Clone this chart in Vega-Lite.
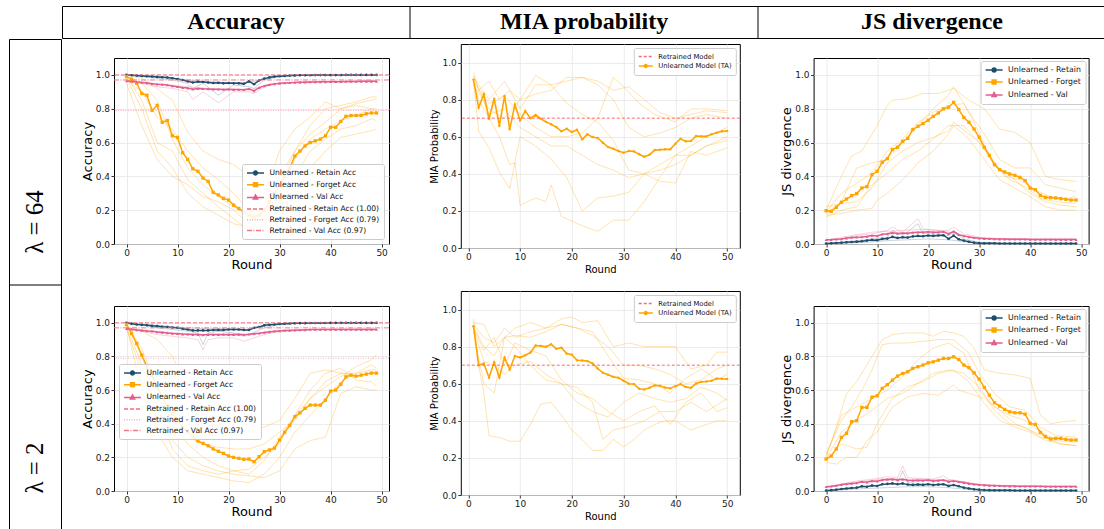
{
"$schema":"https://vega.github.io/schema/vega-lite/v6.json",
"background":"white",
"padding":{"left":8,"top":5,"right":0,"bottom":0},
"config":{"view":{"stroke":"#000","strokeWidth":1},"concat":{"spacing":0},
"axis":{"domain":false,"labelOverlap":false,"labelFont":"DejaVu Sans","labelFontSize":9,"labelColor":"#1a1a1a","labelPadding":1.5,"tickColor":"#000","tickSize":3,"tickWidth":0.8,"gridColor":"#e6e6e6","gridWidth":0.8,"titleFont":"DejaVu Sans","titleFontWeight":"normal","titleColor":"#000","labelFlush":false}},
"datasets":{
"accret":[{"k":"tR","v":1},{"k":"tF","v":0.79},{"k":"tV","v":0.97}],
"miaret":[{"k":"tM","v":0.7}],
"a64":[
{"k":"F","r":0,"v":0.99},{"k":"F","r":1,"v":0.975},{"k":"F","r":2,"v":0.95},{"k":"F","r":3,"v":0.89},{"k":"F","r":4,"v":0.88},{"k":"F","r":5,"v":0.79},{"k":"F","r":6,"v":0.82},{"k":"F","r":7,"v":0.72},{"k":"F","r":8,"v":0.73},{"k":"F","r":9,"v":0.64},{"k":"F","r":10,"v":0.63},{"k":"F","r":11,"v":0.54},{"k":"F","r":12,"v":0.5},{"k":"F","r":13,"v":0.445},{"k":"F","r":14,"v":0.43},{"k":"F","r":15,"v":0.39},{"k":"F","r":16,"v":0.37},{"k":"F","r":17,"v":0.305},{"k":"F","r":18,"v":0.29},{"k":"F","r":19,"v":0.27},{"k":"F","r":20,"v":0.26},{"k":"F","r":21,"v":0.23},{"k":"F","r":22,"v":0.21},{"k":"F","r":23,"v":0.19},{"k":"F","r":24,"v":0.17},{"k":"F","r":25,"v":0.16},{"k":"F","r":26,"v":0.17},{"k":"F","r":27,"v":0.2},{"k":"F","r":28,"v":0.25},{"k":"F","r":29,"v":0.3},{"k":"F","r":30,"v":0.35},{"k":"F","r":31,"v":0.4},{"k":"F","r":32,"v":0.45},{"k":"F","r":33,"v":0.52},{"k":"F","r":34,"v":0.55},{"k":"F","r":35,"v":0.58},{"k":"F","r":36,"v":0.6},{"k":"F","r":37,"v":0.61},{"k":"F","r":38,"v":0.62},{"k":"F","r":39,"v":0.64},{"k":"F","r":40,"v":0.69},{"k":"F","r":41,"v":0.69},{"k":"F","r":42,"v":0.725},{"k":"F","r":43,"v":0.755},{"k":"F","r":44,"v":0.76},{"k":"F","r":45,"v":0.76},{"k":"F","r":46,"v":0.76},{"k":"F","r":47,"v":0.77},{"k":"F","r":48,"v":0.775},{"k":"F","r":49,"v":0.775},
{"k":"R","r":0,"v":1},{"k":"R","r":1,"v":0.998},{"k":"R","r":2,"v":0.996},{"k":"R","r":3,"v":0.994},{"k":"R","r":4,"v":0.992},{"k":"R","r":5,"v":0.99},{"k":"R","r":6,"v":0.988},{"k":"R","r":7,"v":0.986},{"k":"R","r":8,"v":0.984},{"k":"R","r":9,"v":0.98},{"k":"R","r":10,"v":0.976},{"k":"R","r":11,"v":0.97},{"k":"R","r":12,"v":0.962},{"k":"R","r":13,"v":0.955},{"k":"R","r":14,"v":0.96},{"k":"R","r":15,"v":0.958},{"k":"R","r":16,"v":0.955},{"k":"R","r":17,"v":0.952},{"k":"R","r":18,"v":0.953},{"k":"R","r":19,"v":0.95},{"k":"R","r":20,"v":0.952},{"k":"R","r":21,"v":0.95},{"k":"R","r":22,"v":0.95},{"k":"R","r":23,"v":0.947},{"k":"R","r":24,"v":0.962},{"k":"R","r":25,"v":0.945},{"k":"R","r":26,"v":0.968},{"k":"R","r":27,"v":0.978},{"k":"R","r":28,"v":0.985},{"k":"R","r":29,"v":0.99},{"k":"R","r":30,"v":0.992},{"k":"R","r":31,"v":0.994},{"k":"R","r":32,"v":0.996},{"k":"R","r":33,"v":0.997},{"k":"R","r":34,"v":0.998},{"k":"R","r":35,"v":0.998},{"k":"R","r":36,"v":0.998},{"k":"R","r":37,"v":0.999},{"k":"R","r":38,"v":0.999},{"k":"R","r":39,"v":0.999},{"k":"R","r":40,"v":0.999},{"k":"R","r":41,"v":0.999},{"k":"R","r":42,"v":0.999},{"k":"R","r":43,"v":1},{"k":"R","r":44,"v":1},{"k":"R","r":45,"v":1},{"k":"R","r":46,"v":1},{"k":"R","r":47,"v":1},{"k":"R","r":48,"v":1},{"k":"R","r":49,"v":1},
{"k":"V","r":0,"v":0.965},{"k":"V","r":1,"v":0.962},{"k":"V","r":2,"v":0.958},{"k":"V","r":3,"v":0.955},{"k":"V","r":4,"v":0.952},{"k":"V","r":5,"v":0.948},{"k":"V","r":6,"v":0.945},{"k":"V","r":7,"v":0.943},{"k":"V","r":8,"v":0.94},{"k":"V","r":9,"v":0.935},{"k":"V","r":10,"v":0.93},{"k":"V","r":11,"v":0.925},{"k":"V","r":12,"v":0.922},{"k":"V","r":13,"v":0.915},{"k":"V","r":14,"v":0.92},{"k":"V","r":15,"v":0.918},{"k":"V","r":16,"v":0.917},{"k":"V","r":17,"v":0.915},{"k":"V","r":18,"v":0.915},{"k":"V","r":19,"v":0.914},{"k":"V","r":20,"v":0.915},{"k":"V","r":21,"v":0.913},{"k":"V","r":22,"v":0.914},{"k":"V","r":23,"v":0.912},{"k":"V","r":24,"v":0.918},{"k":"V","r":25,"v":0.905},{"k":"V","r":26,"v":0.925},{"k":"V","r":27,"v":0.935},{"k":"V","r":28,"v":0.942},{"k":"V","r":29,"v":0.947},{"k":"V","r":30,"v":0.95},{"k":"V","r":31,"v":0.952},{"k":"V","r":32,"v":0.954},{"k":"V","r":33,"v":0.955},{"k":"V","r":34,"v":0.956},{"k":"V","r":35,"v":0.957},{"k":"V","r":36,"v":0.958},{"k":"V","r":37,"v":0.958},{"k":"V","r":38,"v":0.959},{"k":"V","r":39,"v":0.959},{"k":"V","r":40,"v":0.96},{"k":"V","r":41,"v":0.96},{"k":"V","r":42,"v":0.96},{"k":"V","r":43,"v":0.961},{"k":"V","r":44,"v":0.961},{"k":"V","r":45,"v":0.961},{"k":"V","r":46,"v":0.962},{"k":"V","r":47,"v":0.962},{"k":"V","r":48,"v":0.962},{"k":"V","r":49,"v":0.962},
{"k":"f1","r":0,"v":0.98},{"k":"f1","r":3,"v":0.8},{"k":"f1","r":6,"v":0.55},{"k":"f1","r":9,"v":0.45},{"k":"f1","r":12,"v":0.3},{"k":"f1","r":15,"v":0.22},{"k":"f1","r":18,"v":0.17},{"k":"f1","r":21,"v":0.12},{"k":"f1","r":24,"v":0.1},{"k":"f1","r":27,"v":0.15},{"k":"f1","r":30,"v":0.35},{"k":"f1","r":33,"v":0.55},{"k":"f1","r":36,"v":0.65},{"k":"f1","r":39,"v":0.72},{"k":"f1","r":42,"v":0.8},{"k":"f1","r":45,"v":0.83},{"k":"f1","r":48,"v":0.85},{"k":"f1","r":49,"v":0.86},
{"k":"f2","r":0,"v":0.99},{"k":"f2","r":3,"v":0.85},{"k":"f2","r":6,"v":0.6},{"k":"f2","r":9,"v":0.55},{"k":"f2","r":12,"v":0.38},{"k":"f2","r":15,"v":0.3},{"k":"f2","r":18,"v":0.22},{"k":"f2","r":21,"v":0.15},{"k":"f2","r":24,"v":0.08},{"k":"f2","r":27,"v":0.12},{"k":"f2","r":30,"v":0.3},{"k":"f2","r":33,"v":0.5},{"k":"f2","r":36,"v":0.62},{"k":"f2","r":39,"v":0.68},{"k":"f2","r":42,"v":0.73},{"k":"f2","r":45,"v":0.76},{"k":"f2","r":48,"v":0.8},{"k":"f2","r":49,"v":0.8},
{"k":"f3","r":0,"v":1},{"k":"f3","r":3,"v":0.98},{"k":"f3","r":6,"v":0.92},{"k":"f3","r":9,"v":0.85},{"k":"f3","r":12,"v":0.66},{"k":"f3","r":15,"v":0.55},{"k":"f3","r":18,"v":0.5},{"k":"f3","r":21,"v":0.47},{"k":"f3","r":24,"v":0.4},{"k":"f3","r":27,"v":0.35},{"k":"f3","r":30,"v":0.4},{"k":"f3","r":33,"v":0.55},{"k":"f3","r":36,"v":0.7},{"k":"f3","r":39,"v":0.8},{"k":"f3","r":42,"v":0.82},{"k":"f3","r":45,"v":0.84},{"k":"f3","r":48,"v":0.87},{"k":"f3","r":49,"v":0.87},
{"k":"f4","r":0,"v":0.97},{"k":"f4","r":3,"v":0.9},{"k":"f4","r":6,"v":0.75},{"k":"f4","r":9,"v":0.68},{"k":"f4","r":12,"v":0.55},{"k":"f4","r":15,"v":0.45},{"k":"f4","r":18,"v":0.38},{"k":"f4","r":21,"v":0.3},{"k":"f4","r":24,"v":0.2},{"k":"f4","r":27,"v":0.13},{"k":"f4","r":30,"v":0.2},{"k":"f4","r":33,"v":0.4},{"k":"f4","r":36,"v":0.55},{"k":"f4","r":39,"v":0.62},{"k":"f4","r":42,"v":0.68},{"k":"f4","r":45,"v":0.7},{"k":"f4","r":48,"v":0.74},{"k":"f4","r":49,"v":0.73},
{"k":"f5","r":0,"v":0.99},{"k":"f5","r":3,"v":0.95},{"k":"f5","r":6,"v":0.85},{"k":"f5","r":9,"v":0.62},{"k":"f5","r":12,"v":0.45},{"k":"f5","r":15,"v":0.35},{"k":"f5","r":18,"v":0.28},{"k":"f5","r":21,"v":0.22},{"k":"f5","r":24,"v":0.17},{"k":"f5","r":27,"v":0.2},{"k":"f5","r":30,"v":0.25},{"k":"f5","r":33,"v":0.32},{"k":"f5","r":36,"v":0.45},{"k":"f5","r":39,"v":0.55},{"k":"f5","r":42,"v":0.63},{"k":"f5","r":45,"v":0.65},{"k":"f5","r":48,"v":0.67},{"k":"f5","r":49,"v":0.68},
{"k":"f6","r":0,"v":0.95},{"k":"f6","r":3,"v":0.7},{"k":"f6","r":6,"v":0.5},{"k":"f6","r":9,"v":0.4},{"k":"f6","r":12,"v":0.35},{"k":"f6","r":15,"v":0.28},{"k":"f6","r":18,"v":0.25},{"k":"f6","r":21,"v":0.2},{"k":"f6","r":24,"v":0.12},{"k":"f6","r":27,"v":0.3},{"k":"f6","r":30,"v":0.55},{"k":"f6","r":33,"v":0.68},{"k":"f6","r":36,"v":0.75},{"k":"f6","r":39,"v":0.84},{"k":"f6","r":42,"v":0.8},{"k":"f6","r":45,"v":0.82},{"k":"f6","r":48,"v":0.8},{"k":"f6","r":49,"v":0.78},
{"k":"b1","r":0,"v":1},{"k":"b1","r":3,"v":0.99},{"k":"b1","r":6,"v":0.98},{"k":"b1","r":9,"v":0.97},{"k":"b1","r":12,"v":0.95},{"k":"b1","r":13,"v":0.92},{"k":"b1","r":15,"v":0.95},{"k":"b1","r":18,"v":0.88},{"k":"b1","r":21,"v":0.94},{"k":"b1","r":24,"v":0.93},{"k":"b1","r":25,"v":0.92},{"k":"b1","r":27,"v":0.97},{"k":"b1","r":30,"v":0.99},{"k":"b1","r":35,"v":1},{"k":"b1","r":40,"v":1},{"k":"b1","r":49,"v":1},
{"k":"b2","r":0,"v":1},{"k":"b2","r":4,"v":0.995},{"k":"b2","r":8,"v":0.985},{"k":"b2","r":12,"v":0.97},{"k":"b2","r":16,"v":0.96},{"k":"b2","r":20,"v":0.955},{"k":"b2","r":24,"v":0.955},{"k":"b2","r":28,"v":0.985},{"k":"b2","r":32,"v":0.998},{"k":"b2","r":40,"v":1},{"k":"b2","r":49,"v":1},
{"k":"p1","r":0,"v":0.96},{"k":"p1","r":3,"v":0.95},{"k":"p1","r":6,"v":0.93},{"k":"p1","r":9,"v":0.92},{"k":"p1","r":12,"v":0.9},{"k":"p1","r":13,"v":0.855},{"k":"p1","r":15,"v":0.9},{"k":"p1","r":18,"v":0.835},{"k":"p1","r":21,"v":0.9},{"k":"p1","r":24,"v":0.9},{"k":"p1","r":25,"v":0.89},{"k":"p1","r":27,"v":0.93},{"k":"p1","r":30,"v":0.95},{"k":"p1","r":35,"v":0.96},{"k":"p1","r":40,"v":0.96},{"k":"p1","r":49,"v":0.965},
{"k":"p2","r":0,"v":0.97},{"k":"p2","r":4,"v":0.955},{"k":"p2","r":8,"v":0.94},{"k":"p2","r":12,"v":0.93},{"k":"p2","r":16,"v":0.92},{"k":"p2","r":20,"v":0.915},{"k":"p2","r":24,"v":0.91},{"k":"p2","r":28,"v":0.945},{"k":"p2","r":32,"v":0.955},{"k":"p2","r":40,"v":0.962},{"k":"p2","r":49,"v":0.962}
],
"a2":[
{"k":"F","r":0,"v":0.99},{"k":"F","r":1,"v":0.937},{"k":"F","r":2,"v":0.877},{"k":"F","r":3,"v":0.808},{"k":"F","r":4,"v":0.74},{"k":"F","r":5,"v":0.68},{"k":"F","r":6,"v":0.62},{"k":"F","r":7,"v":0.56},{"k":"F","r":8,"v":0.5},{"k":"F","r":9,"v":0.46},{"k":"F","r":10,"v":0.42},{"k":"F","r":11,"v":0.38},{"k":"F","r":12,"v":0.35},{"k":"F","r":13,"v":0.323},{"k":"F","r":14,"v":0.297},{"k":"F","r":15,"v":0.283},{"k":"F","r":16,"v":0.269},{"k":"F","r":17,"v":0.25},{"k":"F","r":18,"v":0.236},{"k":"F","r":19,"v":0.224},{"k":"F","r":20,"v":0.208},{"k":"F","r":21,"v":0.2},{"k":"F","r":22,"v":0.194},{"k":"F","r":23,"v":0.188},{"k":"F","r":24,"v":0.19},{"k":"F","r":25,"v":0.174},{"k":"F","r":26,"v":0.204},{"k":"F","r":27,"v":0.234},{"k":"F","r":28,"v":0.244},{"k":"F","r":29,"v":0.255},{"k":"F","r":30,"v":0.303},{"k":"F","r":31,"v":0.349},{"k":"F","r":32,"v":0.39},{"k":"F","r":33,"v":0.442},{"k":"F","r":34,"v":0.465},{"k":"F","r":35,"v":0.491},{"k":"F","r":36,"v":0.511},{"k":"F","r":37,"v":0.511},{"k":"F","r":38,"v":0.511},{"k":"F","r":39,"v":0.54},{"k":"F","r":40,"v":0.594},{"k":"F","r":41,"v":0.6},{"k":"F","r":42,"v":0.634},{"k":"F","r":43,"v":0.679},{"k":"F","r":44,"v":0.689},{"k":"F","r":45,"v":0.683},{"k":"F","r":46,"v":0.689},{"k":"F","r":47,"v":0.695},{"k":"F","r":48,"v":0.701},{"k":"F","r":49,"v":0.701},
{"k":"R","r":0,"v":1},{"k":"R","r":1,"v":0.995},{"k":"R","r":2,"v":0.99},{"k":"R","r":3,"v":0.988},{"k":"R","r":4,"v":0.985},{"k":"R","r":5,"v":0.982},{"k":"R","r":6,"v":0.98},{"k":"R","r":7,"v":0.976},{"k":"R","r":8,"v":0.975},{"k":"R","r":9,"v":0.972},{"k":"R","r":10,"v":0.97},{"k":"R","r":11,"v":0.965},{"k":"R","r":12,"v":0.96},{"k":"R","r":13,"v":0.955},{"k":"R","r":14,"v":0.955},{"k":"R","r":15,"v":0.955},{"k":"R","r":16,"v":0.955},{"k":"R","r":17,"v":0.957},{"k":"R","r":18,"v":0.958},{"k":"R","r":19,"v":0.958},{"k":"R","r":20,"v":0.96},{"k":"R","r":21,"v":0.96},{"k":"R","r":22,"v":0.96},{"k":"R","r":23,"v":0.958},{"k":"R","r":24,"v":0.958},{"k":"R","r":25,"v":0.97},{"k":"R","r":26,"v":0.975},{"k":"R","r":27,"v":0.985},{"k":"R","r":28,"v":0.988},{"k":"R","r":29,"v":0.99},{"k":"R","r":30,"v":0.993},{"k":"R","r":31,"v":0.995},{"k":"R","r":32,"v":0.996},{"k":"R","r":33,"v":0.997},{"k":"R","r":34,"v":0.998},{"k":"R","r":35,"v":0.998},{"k":"R","r":36,"v":0.999},{"k":"R","r":37,"v":0.999},{"k":"R","r":38,"v":0.999},{"k":"R","r":39,"v":0.999},{"k":"R","r":40,"v":1},{"k":"R","r":41,"v":1},{"k":"R","r":42,"v":1},{"k":"R","r":43,"v":1},{"k":"R","r":44,"v":1},{"k":"R","r":45,"v":1},{"k":"R","r":46,"v":1},{"k":"R","r":47,"v":1},{"k":"R","r":48,"v":1},{"k":"R","r":49,"v":1},
{"k":"V","r":0,"v":0.965},{"k":"V","r":1,"v":0.962},{"k":"V","r":2,"v":0.958},{"k":"V","r":3,"v":0.955},{"k":"V","r":4,"v":0.952},{"k":"V","r":5,"v":0.95},{"k":"V","r":6,"v":0.945},{"k":"V","r":7,"v":0.943},{"k":"V","r":8,"v":0.94},{"k":"V","r":9,"v":0.937},{"k":"V","r":10,"v":0.935},{"k":"V","r":11,"v":0.933},{"k":"V","r":12,"v":0.932},{"k":"V","r":13,"v":0.93},{"k":"V","r":14,"v":0.93},{"k":"V","r":15,"v":0.928},{"k":"V","r":16,"v":0.93},{"k":"V","r":17,"v":0.93},{"k":"V","r":18,"v":0.93},{"k":"V","r":19,"v":0.931},{"k":"V","r":20,"v":0.93},{"k":"V","r":21,"v":0.93},{"k":"V","r":22,"v":0.931},{"k":"V","r":23,"v":0.928},{"k":"V","r":24,"v":0.932},{"k":"V","r":25,"v":0.935},{"k":"V","r":26,"v":0.938},{"k":"V","r":27,"v":0.942},{"k":"V","r":28,"v":0.946},{"k":"V","r":29,"v":0.95},{"k":"V","r":30,"v":0.952},{"k":"V","r":31,"v":0.954},{"k":"V","r":32,"v":0.955},{"k":"V","r":33,"v":0.956},{"k":"V","r":34,"v":0.957},{"k":"V","r":35,"v":0.958},{"k":"V","r":36,"v":0.96},{"k":"V","r":37,"v":0.96},{"k":"V","r":38,"v":0.96},{"k":"V","r":39,"v":0.96},{"k":"V","r":40,"v":0.96},{"k":"V","r":41,"v":0.96},{"k":"V","r":42,"v":0.96},{"k":"V","r":43,"v":0.96},{"k":"V","r":44,"v":0.96},{"k":"V","r":45,"v":0.96},{"k":"V","r":46,"v":0.96},{"k":"V","r":47,"v":0.96},{"k":"V","r":48,"v":0.96},{"k":"V","r":49,"v":0.96},
{"k":"f1","r":0,"v":0.98},{"k":"f1","r":3,"v":0.6},{"k":"f1","r":6,"v":0.35},{"k":"f1","r":9,"v":0.2},{"k":"f1","r":12,"v":0.12},{"k":"f1","r":15,"v":0.1},{"k":"f1","r":18,"v":0.08},{"k":"f1","r":21,"v":0.06},{"k":"f1","r":24,"v":0.05},{"k":"f1","r":27,"v":0.1},{"k":"f1","r":30,"v":0.2},{"k":"f1","r":33,"v":0.35},{"k":"f1","r":36,"v":0.45},{"k":"f1","r":39,"v":0.55},{"k":"f1","r":42,"v":0.65},{"k":"f1","r":45,"v":0.7},{"k":"f1","r":48,"v":0.75},{"k":"f1","r":49,"v":0.73},
{"k":"f2","r":0,"v":0.99},{"k":"f2","r":3,"v":0.85},{"k":"f2","r":6,"v":0.6},{"k":"f2","r":9,"v":0.4},{"k":"f2","r":12,"v":0.28},{"k":"f2","r":15,"v":0.2},{"k":"f2","r":18,"v":0.15},{"k":"f2","r":21,"v":0.12},{"k":"f2","r":24,"v":0.1},{"k":"f2","r":27,"v":0.18},{"k":"f2","r":30,"v":0.32},{"k":"f2","r":33,"v":0.45},{"k":"f2","r":36,"v":0.55},{"k":"f2","r":39,"v":0.62},{"k":"f2","r":42,"v":0.68},{"k":"f2","r":45,"v":0.74},{"k":"f2","r":48,"v":0.78},{"k":"f2","r":49,"v":0.81},
{"k":"f3","r":0,"v":1},{"k":"f3","r":3,"v":0.95},{"k":"f3","r":6,"v":0.9},{"k":"f3","r":9,"v":0.8},{"k":"f3","r":12,"v":0.62},{"k":"f3","r":15,"v":0.45},{"k":"f3","r":18,"v":0.38},{"k":"f3","r":21,"v":0.36},{"k":"f3","r":24,"v":0.35},{"k":"f3","r":27,"v":0.38},{"k":"f3","r":30,"v":0.42},{"k":"f3","r":33,"v":0.55},{"k":"f3","r":36,"v":0.7},{"k":"f3","r":39,"v":0.72},{"k":"f3","r":42,"v":0.7},{"k":"f3","r":45,"v":0.68},{"k":"f3","r":48,"v":0.7},{"k":"f3","r":49,"v":0.7},
{"k":"f4","r":0,"v":0.97},{"k":"f4","r":3,"v":0.7},{"k":"f4","r":6,"v":0.45},{"k":"f4","r":9,"v":0.3},{"k":"f4","r":12,"v":0.2},{"k":"f4","r":15,"v":0.15},{"k":"f4","r":18,"v":0.12},{"k":"f4","r":21,"v":0.1},{"k":"f4","r":24,"v":0.09},{"k":"f4","r":27,"v":0.08},{"k":"f4","r":30,"v":0.12},{"k":"f4","r":33,"v":0.25},{"k":"f4","r":36,"v":0.3},{"k":"f4","r":39,"v":0.32},{"k":"f4","r":42,"v":0.58},{"k":"f4","r":45,"v":0.62},{"k":"f4","r":48,"v":0.6},{"k":"f4","r":49,"v":0.6},
{"k":"f5","r":0,"v":0.99},{"k":"f5","r":3,"v":0.8},{"k":"f5","r":6,"v":0.55},{"k":"f5","r":9,"v":0.42},{"k":"f5","r":12,"v":0.32},{"k":"f5","r":15,"v":0.28},{"k":"f5","r":18,"v":0.26},{"k":"f5","r":21,"v":0.25},{"k":"f5","r":24,"v":0.25},{"k":"f5","r":27,"v":0.28},{"k":"f5","r":30,"v":0.35},{"k":"f5","r":33,"v":0.42},{"k":"f5","r":36,"v":0.55},{"k":"f5","r":39,"v":0.65},{"k":"f5","r":42,"v":0.7},{"k":"f5","r":45,"v":0.7},{"k":"f5","r":48,"v":0.72},{"k":"f5","r":49,"v":0.72},
{"k":"f6","r":0,"v":0.98},{"k":"f6","r":3,"v":0.75},{"k":"f6","r":6,"v":0.5},{"k":"f6","r":9,"v":0.25},{"k":"f6","r":12,"v":0.15},{"k":"f6","r":15,"v":0.12},{"k":"f6","r":18,"v":0.1},{"k":"f6","r":21,"v":0.12},{"k":"f6","r":24,"v":0.13},{"k":"f6","r":27,"v":0.2},{"k":"f6","r":30,"v":0.28},{"k":"f6","r":33,"v":0.45},{"k":"f6","r":36,"v":0.6},{"k":"f6","r":39,"v":0.7},{"k":"f6","r":42,"v":0.73},{"k":"f6","r":45,"v":0.66},{"k":"f6","r":48,"v":0.65},{"k":"f6","r":49,"v":0.62},
{"k":"b1","r":0,"v":1},{"k":"b1","r":3,"v":0.99},{"k":"b1","r":6,"v":0.97},{"k":"b1","r":9,"v":0.96},{"k":"b1","r":12,"v":0.95},{"k":"b1","r":14,"v":0.94},{"k":"b1","r":15,"v":0.87},{"k":"b1","r":16,"v":0.94},{"k":"b1","r":18,"v":0.95},{"k":"b1","r":21,"v":0.94},{"k":"b1","r":24,"v":0.93},{"k":"b1","r":27,"v":0.97},{"k":"b1","r":30,"v":0.99},{"k":"b1","r":35,"v":1},{"k":"b1","r":49,"v":1},
{"k":"b2","r":0,"v":1},{"k":"b2","r":4,"v":0.99},{"k":"b2","r":8,"v":0.98},{"k":"b2","r":12,"v":0.97},{"k":"b2","r":16,"v":0.965},{"k":"b2","r":20,"v":0.965},{"k":"b2","r":24,"v":0.96},{"k":"b2","r":28,"v":0.985},{"k":"b2","r":32,"v":1},{"k":"b2","r":49,"v":1},
{"k":"p1","r":0,"v":0.96},{"k":"p1","r":3,"v":0.95},{"k":"p1","r":6,"v":0.93},{"k":"p1","r":9,"v":0.92},{"k":"p1","r":12,"v":0.91},{"k":"p1","r":14,"v":0.9},{"k":"p1","r":15,"v":0.84},{"k":"p1","r":16,"v":0.9},{"k":"p1","r":18,"v":0.91},{"k":"p1","r":21,"v":0.91},{"k":"p1","r":23,"v":0.89},{"k":"p1","r":24,"v":0.9},{"k":"p1","r":27,"v":0.93},{"k":"p1","r":30,"v":0.95},{"k":"p1","r":35,"v":0.96},{"k":"p1","r":49,"v":0.962},
{"k":"p2","r":0,"v":0.97},{"k":"p2","r":4,"v":0.955},{"k":"p2","r":8,"v":0.945},{"k":"p2","r":12,"v":0.935},{"k":"p2","r":16,"v":0.93},{"k":"p2","r":20,"v":0.925},{"k":"p2","r":24,"v":0.93},{"k":"p2","r":28,"v":0.95},{"k":"p2","r":32,"v":0.958},{"k":"p2","r":40,"v":0.962},{"k":"p2","r":49,"v":0.962}
],
"m64":[
{"k":"U","r":1,"v":0.908},{"k":"U","r":2,"v":0.757},{"k":"U","r":3,"v":0.829},{"k":"U","r":4,"v":0.697},{"k":"U","r":5,"v":0.805},{"k":"U","r":6,"v":0.658},{"k":"U","r":7,"v":0.82},{"k":"U","r":8,"v":0.64},{"k":"U","r":9,"v":0.773},{"k":"U","r":10,"v":0.688},{"k":"U","r":11,"v":0.739},{"k":"U","r":12,"v":0.7},{"k":"U","r":13,"v":0.717},{"k":"U","r":14,"v":0.697},{"k":"U","r":15,"v":0.68},{"k":"U","r":16,"v":0.667},{"k":"U","r":17,"v":0.652},{"k":"U","r":18,"v":0.629},{"k":"U","r":19,"v":0.643},{"k":"U","r":20,"v":0.625},{"k":"U","r":21,"v":0.638},{"k":"U","r":22,"v":0.586},{"k":"U","r":23,"v":0.613},{"k":"U","r":24,"v":0.598},{"k":"U","r":25,"v":0.593},{"k":"U","r":26,"v":0.568},{"k":"U","r":27,"v":0.544},{"k":"U","r":28,"v":0.535},{"k":"U","r":29,"v":0.523},{"k":"U","r":30,"v":0.514},{"k":"U","r":31,"v":0.523},{"k":"U","r":32,"v":0.521},{"k":"U","r":33,"v":0.505},{"k":"U","r":34,"v":0.492},{"k":"U","r":35,"v":0.503},{"k":"U","r":36,"v":0.528},{"k":"U","r":37,"v":0.53},{"k":"U","r":38,"v":0.532},{"k":"U","r":39,"v":0.532},{"k":"U","r":40,"v":0.562},{"k":"U","r":41,"v":0.589},{"k":"U","r":42,"v":0.575},{"k":"U","r":43,"v":0.577},{"k":"U","r":44,"v":0.604},{"k":"U","r":45,"v":0.602},{"k":"U","r":46,"v":0.602},{"k":"U","r":47,"v":0.613},{"k":"U","r":48,"v":0.622},{"k":"U","r":49,"v":0.629},{"k":"U","r":50,"v":0.631},
{"k":"f1","r":1,"v":0.95},{"k":"f1","r":2,"v":0.85},{"k":"f1","r":4,"v":0.9},{"k":"f1","r":6,"v":0.8},{"k":"f1","r":8,"v":0.85},{"k":"f1","r":10,"v":0.8},{"k":"f1","r":13,"v":0.93},{"k":"f1","r":16,"v":0.88},{"k":"f1","r":19,"v":0.9},{"k":"f1","r":22,"v":0.92},{"k":"f1","r":25,"v":0.9},{"k":"f1","r":28,"v":0.85},{"k":"f1","r":31,"v":0.87},{"k":"f1","r":34,"v":0.8},{"k":"f1","r":37,"v":0.73},{"k":"f1","r":40,"v":0.7},{"k":"f1","r":43,"v":0.72},{"k":"f1","r":46,"v":0.74},{"k":"f1","r":50,"v":0.73},
{"k":"f2","r":1,"v":0.9},{"k":"f2","r":2,"v":0.8},{"k":"f2","r":4,"v":0.7},{"k":"f2","r":6,"v":0.6},{"k":"f2","r":8,"v":0.45},{"k":"f2","r":9,"v":0.46},{"k":"f2","r":10,"v":0.23},{"k":"f2","r":13,"v":0.27},{"k":"f2","r":15,"v":0.25},{"k":"f2","r":16,"v":0.34},{"k":"f2","r":18,"v":0.17},{"k":"f2","r":22,"v":0.12},{"k":"f2","r":25,"v":0.09},{"k":"f2","r":28,"v":0.15},{"k":"f2","r":31,"v":0.15},{"k":"f2","r":34,"v":0.25},{"k":"f2","r":37,"v":0.38},{"k":"f2","r":40,"v":0.5},{"k":"f2","r":43,"v":0.5},{"k":"f2","r":46,"v":0.55},{"k":"f2","r":50,"v":0.6},
{"k":"f3","r":1,"v":0.9},{"k":"f3","r":2,"v":0.63},{"k":"f3","r":4,"v":0.54},{"k":"f3","r":6,"v":0.41},{"k":"f3","r":8,"v":0.32},{"k":"f3","r":10,"v":0.6},{"k":"f3","r":13,"v":0.55},{"k":"f3","r":16,"v":0.48},{"k":"f3","r":19,"v":0.38},{"k":"f3","r":22,"v":0.2},{"k":"f3","r":25,"v":0.27},{"k":"f3","r":28,"v":0.28},{"k":"f3","r":31,"v":0.3},{"k":"f3","r":34,"v":0.4},{"k":"f3","r":37,"v":0.42},{"k":"f3","r":40,"v":0.45},{"k":"f3","r":43,"v":0.5},{"k":"f3","r":46,"v":0.55},{"k":"f3","r":50,"v":0.58},
{"k":"f4","r":1,"v":0.92},{"k":"f4","r":4,"v":0.8},{"k":"f4","r":7,"v":0.9},{"k":"f4","r":10,"v":0.75},{"k":"f4","r":13,"v":0.88},{"k":"f4","r":16,"v":0.88},{"k":"f4","r":19,"v":0.78},{"k":"f4","r":22,"v":0.72},{"k":"f4","r":25,"v":0.68},{"k":"f4","r":28,"v":0.58},{"k":"f4","r":31,"v":0.42},{"k":"f4","r":34,"v":0.4},{"k":"f4","r":37,"v":0.45},{"k":"f4","r":40,"v":0.5},{"k":"f4","r":43,"v":0.55},{"k":"f4","r":46,"v":0.6},{"k":"f4","r":50,"v":0.65},
{"k":"f5","r":1,"v":0.88},{"k":"f5","r":4,"v":0.75},{"k":"f5","r":7,"v":0.7},{"k":"f5","r":10,"v":0.8},{"k":"f5","r":13,"v":0.83},{"k":"f5","r":16,"v":0.85},{"k":"f5","r":19,"v":0.92},{"k":"f5","r":22,"v":0.92},{"k":"f5","r":25,"v":0.88},{"k":"f5","r":28,"v":0.8},{"k":"f5","r":31,"v":0.65},{"k":"f5","r":34,"v":0.6},{"k":"f5","r":37,"v":0.62},{"k":"f5","r":40,"v":0.65},{"k":"f5","r":43,"v":0.7},{"k":"f5","r":46,"v":0.72},{"k":"f5","r":50,"v":0.7},
{"k":"f6","r":1,"v":0.93},{"k":"f6","r":4,"v":0.72},{"k":"f6","r":7,"v":0.75},{"k":"f6","r":10,"v":0.65},{"k":"f6","r":13,"v":0.6},{"k":"f6","r":16,"v":0.55},{"k":"f6","r":19,"v":0.55},{"k":"f6","r":22,"v":0.5},{"k":"f6","r":25,"v":0.45},{"k":"f6","r":28,"v":0.42},{"k":"f6","r":31,"v":0.38},{"k":"f6","r":34,"v":0.4},{"k":"f6","r":37,"v":0.36},{"k":"f6","r":40,"v":0.35},{"k":"f6","r":43,"v":0.52},{"k":"f6","r":46,"v":0.5},{"k":"f6","r":50,"v":0.54},
{"k":"f7","r":1,"v":0.9},{"k":"f7","r":4,"v":0.78},{"k":"f7","r":7,"v":0.82},{"k":"f7","r":10,"v":0.72},{"k":"f7","r":13,"v":0.65},{"k":"f7","r":16,"v":0.6},{"k":"f7","r":19,"v":0.6},{"k":"f7","r":22,"v":0.62},{"k":"f7","r":25,"v":0.7},{"k":"f7","r":28,"v":0.92},{"k":"f7","r":30,"v":0.87},{"k":"f7","r":33,"v":0.78},{"k":"f7","r":36,"v":0.72},{"k":"f7","r":40,"v":0.68},{"k":"f7","r":43,"v":0.75},{"k":"f7","r":46,"v":0.75},{"k":"f7","r":50,"v":0.74}
],
"m2":[
{"k":"U","r":1,"v":0.91},{"k":"U","r":2,"v":0.7},{"k":"U","r":3,"v":0.709},{"k":"U","r":4,"v":0.634},{"k":"U","r":5,"v":0.716},{"k":"U","r":6,"v":0.634},{"k":"U","r":7,"v":0.741},{"k":"U","r":8,"v":0.677},{"k":"U","r":9,"v":0.75},{"k":"U","r":10,"v":0.741},{"k":"U","r":11,"v":0.754},{"k":"U","r":12,"v":0.768},{"k":"U","r":13,"v":0.806},{"k":"U","r":14,"v":0.804},{"k":"U","r":15,"v":0.799},{"k":"U","r":16,"v":0.813},{"k":"U","r":17,"v":0.788},{"k":"U","r":18,"v":0.794},{"k":"U","r":19,"v":0.763},{"k":"U","r":20,"v":0.757},{"k":"U","r":21,"v":0.727},{"k":"U","r":22,"v":0.725},{"k":"U","r":23,"v":0.722},{"k":"U","r":24,"v":0.709},{"k":"U","r":25,"v":0.682},{"k":"U","r":26,"v":0.659},{"k":"U","r":27,"v":0.648},{"k":"U","r":28,"v":0.637},{"k":"U","r":29,"v":0.632},{"k":"U","r":30,"v":0.616},{"k":"U","r":31,"v":0.6},{"k":"U","r":32,"v":0.598},{"k":"U","r":33,"v":0.573},{"k":"U","r":34,"v":0.569},{"k":"U","r":35,"v":0.578},{"k":"U","r":36,"v":0.591},{"k":"U","r":37,"v":0.589},{"k":"U","r":38,"v":0.58},{"k":"U","r":39,"v":0.575},{"k":"U","r":40,"v":0.587},{"k":"U","r":41,"v":0.598},{"k":"U","r":42,"v":0.583},{"k":"U","r":43,"v":0.578},{"k":"U","r":44,"v":0.601},{"k":"U","r":45,"v":0.61},{"k":"U","r":46,"v":0.612},{"k":"U","r":47,"v":0.616},{"k":"U","r":48,"v":0.628},{"k":"U","r":49,"v":0.627},{"k":"U","r":50,"v":0.625},
{"k":"f1","r":1,"v":0.95},{"k":"f1","r":2,"v":0.7},{"k":"f1","r":3,"v":0.55},{"k":"f1","r":4,"v":0.32},{"k":"f1","r":6,"v":0.31},{"k":"f1","r":8,"v":0.29},{"k":"f1","r":10,"v":0.29},{"k":"f1","r":12,"v":0.38},{"k":"f1","r":14,"v":0.49},{"k":"f1","r":16,"v":0.5},{"k":"f1","r":18,"v":0.43},{"k":"f1","r":20,"v":0.35},{"k":"f1","r":22,"v":0.3},{"k":"f1","r":24,"v":0.24},{"k":"f1","r":26,"v":0.24},{"k":"f1","r":28,"v":0.3},{"k":"f1","r":30,"v":0.26},{"k":"f1","r":32,"v":0.3},{"k":"f1","r":34,"v":0.35},{"k":"f1","r":36,"v":0.38},{"k":"f1","r":38,"v":0.4},{"k":"f1","r":40,"v":0.4},{"k":"f1","r":43,"v":0.35},{"k":"f1","r":46,"v":0.38},{"k":"f1","r":48,"v":0.4},{"k":"f1","r":50,"v":0.4},
{"k":"f2","r":1,"v":0.93},{"k":"f2","r":3,"v":0.92},{"k":"f2","r":5,"v":0.8},{"k":"f2","r":7,"v":0.85},{"k":"f2","r":9,"v":0.9},{"k":"f2","r":12,"v":0.93},{"k":"f2","r":15,"v":0.9},{"k":"f2","r":18,"v":0.95},{"k":"f2","r":20,"v":0.96},{"k":"f2","r":22,"v":0.93},{"k":"f2","r":25,"v":0.94},{"k":"f2","r":28,"v":0.8},{"k":"f2","r":31,"v":0.82},{"k":"f2","r":34,"v":0.8},{"k":"f2","r":37,"v":0.8},{"k":"f2","r":40,"v":0.8},{"k":"f2","r":43,"v":0.68},{"k":"f2","r":46,"v":0.7},{"k":"f2","r":48,"v":0.77},{"k":"f2","r":50,"v":0.77},
{"k":"f3","r":1,"v":0.88},{"k":"f3","r":3,"v":0.6},{"k":"f3","r":5,"v":0.55},{"k":"f3","r":7,"v":0.85},{"k":"f3","r":9,"v":0.86},{"k":"f3","r":12,"v":0.85},{"k":"f3","r":15,"v":0.88},{"k":"f3","r":18,"v":0.92},{"k":"f3","r":21,"v":0.9},{"k":"f3","r":24,"v":0.88},{"k":"f3","r":27,"v":0.75},{"k":"f3","r":30,"v":0.63},{"k":"f3","r":33,"v":0.62},{"k":"f3","r":36,"v":0.6},{"k":"f3","r":39,"v":0.55},{"k":"f3","r":42,"v":0.63},{"k":"f3","r":45,"v":0.68},{"k":"f3","r":48,"v":0.62},{"k":"f3","r":50,"v":0.65},
{"k":"f4","r":1,"v":0.9},{"k":"f4","r":3,"v":0.78},{"k":"f4","r":5,"v":0.85},{"k":"f4","r":7,"v":0.7},{"k":"f4","r":9,"v":0.82},{"k":"f4","r":12,"v":0.78},{"k":"f4","r":15,"v":0.75},{"k":"f4","r":18,"v":0.62},{"k":"f4","r":21,"v":0.55},{"k":"f4","r":24,"v":0.52},{"k":"f4","r":27,"v":0.45},{"k":"f4","r":30,"v":0.4},{"k":"f4","r":33,"v":0.45},{"k":"f4","r":36,"v":0.48},{"k":"f4","r":39,"v":0.38},{"k":"f4","r":42,"v":0.5},{"k":"f4","r":45,"v":0.55},{"k":"f4","r":48,"v":0.45},{"k":"f4","r":50,"v":0.47},
{"k":"f5","r":1,"v":0.91},{"k":"f5","r":3,"v":0.8},{"k":"f5","r":5,"v":0.75},{"k":"f5","r":7,"v":0.85},{"k":"f5","r":9,"v":0.8},{"k":"f5","r":12,"v":0.7},{"k":"f5","r":15,"v":0.62},{"k":"f5","r":18,"v":0.6},{"k":"f5","r":21,"v":0.58},{"k":"f5","r":24,"v":0.5},{"k":"f5","r":26,"v":0.3},{"k":"f5","r":28,"v":0.35},{"k":"f5","r":31,"v":0.37},{"k":"f5","r":34,"v":0.4},{"k":"f5","r":37,"v":0.45},{"k":"f5","r":40,"v":0.45},{"k":"f5","r":43,"v":0.5},{"k":"f5","r":46,"v":0.45},{"k":"f5","r":50,"v":0.52},
{"k":"f6","r":1,"v":0.92},{"k":"f6","r":3,"v":0.85},{"k":"f6","r":5,"v":0.82},{"k":"f6","r":7,"v":0.9},{"k":"f6","r":9,"v":0.85},{"k":"f6","r":12,"v":0.88},{"k":"f6","r":15,"v":0.9},{"k":"f6","r":18,"v":0.92},{"k":"f6","r":21,"v":0.9},{"k":"f6","r":24,"v":0.86},{"k":"f6","r":27,"v":0.8},{"k":"f6","r":30,"v":0.7},{"k":"f6","r":33,"v":0.7},{"k":"f6","r":36,"v":0.68},{"k":"f6","r":39,"v":0.65},{"k":"f6","r":42,"v":0.6},{"k":"f6","r":45,"v":0.62},{"k":"f6","r":48,"v":0.68},{"k":"f6","r":50,"v":0.7},
{"k":"f7","r":1,"v":0.9},{"k":"f7","r":3,"v":0.72},{"k":"f7","r":5,"v":0.7},{"k":"f7","r":7,"v":0.65},{"k":"f7","r":9,"v":0.7},{"k":"f7","r":12,"v":0.72},{"k":"f7","r":15,"v":0.65},{"k":"f7","r":18,"v":0.6},{"k":"f7","r":21,"v":0.5},{"k":"f7","r":24,"v":0.45},{"k":"f7","r":27,"v":0.42},{"k":"f7","r":30,"v":0.5},{"k":"f7","r":33,"v":0.55},{"k":"f7","r":36,"v":0.52},{"k":"f7","r":39,"v":0.5},{"k":"f7","r":42,"v":0.52},{"k":"f7","r":45,"v":0.58},{"k":"f7","r":48,"v":0.55},{"k":"f7","r":50,"v":0.51}
],
"j64":[
{"k":"F","r":0,"v":0.197},{"k":"F","r":1,"v":0.193},{"k":"F","r":2,"v":0.217},{"k":"F","r":3,"v":0.247},{"k":"F","r":4,"v":0.266},{"k":"F","r":5,"v":0.286},{"k":"F","r":6,"v":0.298},{"k":"F","r":7,"v":0.331},{"k":"F","r":8,"v":0.339},{"k":"F","r":9,"v":0.41},{"k":"F","r":10,"v":0.43},{"k":"F","r":11,"v":0.483},{"k":"F","r":12,"v":0.505},{"k":"F","r":13,"v":0.558},{"k":"F","r":14,"v":0.572},{"k":"F","r":15,"v":0.607},{"k":"F","r":16,"v":0.625},{"k":"F","r":17,"v":0.677},{"k":"F","r":18,"v":0.696},{"k":"F","r":19,"v":0.712},{"k":"F","r":20,"v":0.732},{"k":"F","r":21,"v":0.755},{"k":"F","r":22,"v":0.775},{"k":"F","r":23,"v":0.799},{"k":"F","r":24,"v":0.809},{"k":"F","r":25,"v":0.838},{"k":"F","r":26,"v":0.795},{"k":"F","r":27,"v":0.748},{"k":"F","r":28,"v":0.72},{"k":"F","r":29,"v":0.68},{"k":"F","r":30,"v":0.631},{"k":"F","r":31,"v":0.572},{"k":"F","r":32,"v":0.523},{"k":"F","r":33,"v":0.469},{"k":"F","r":34,"v":0.44},{"k":"F","r":35,"v":0.426},{"k":"F","r":36,"v":0.414},{"k":"F","r":37,"v":0.406},{"k":"F","r":38,"v":0.394},{"k":"F","r":39,"v":0.375},{"k":"F","r":40,"v":0.331},{"k":"F","r":41,"v":0.321},{"k":"F","r":42,"v":0.288},{"k":"F","r":43,"v":0.276},{"k":"F","r":44,"v":0.274},{"k":"F","r":45,"v":0.272},{"k":"F","r":46,"v":0.268},{"k":"F","r":47,"v":0.264},{"k":"F","r":48,"v":0.26},{"k":"F","r":49,"v":0.26},
{"k":"R","r":0,"v":0.003},{"k":"R","r":1,"v":0.004},{"k":"R","r":2,"v":0.006},{"k":"R","r":3,"v":0.008},{"k":"R","r":4,"v":0.01},{"k":"R","r":5,"v":0.012},{"k":"R","r":6,"v":0.014},{"k":"R","r":7,"v":0.016},{"k":"R","r":8,"v":0.02},{"k":"R","r":9,"v":0.024},{"k":"R","r":10,"v":0.022},{"k":"R","r":11,"v":0.03},{"k":"R","r":12,"v":0.032},{"k":"R","r":13,"v":0.042},{"k":"R","r":14,"v":0.036},{"k":"R","r":15,"v":0.04},{"k":"R","r":16,"v":0.038},{"k":"R","r":17,"v":0.045},{"k":"R","r":18,"v":0.048},{"k":"R","r":19,"v":0.046},{"k":"R","r":20,"v":0.05},{"k":"R","r":21,"v":0.048},{"k":"R","r":22,"v":0.05},{"k":"R","r":23,"v":0.052},{"k":"R","r":24,"v":0.03},{"k":"R","r":25,"v":0.05},{"k":"R","r":26,"v":0.028},{"k":"R","r":27,"v":0.02},{"k":"R","r":28,"v":0.013},{"k":"R","r":29,"v":0.008},{"k":"R","r":30,"v":0.005},{"k":"R","r":31,"v":0.004},{"k":"R","r":32,"v":0.004},{"k":"R","r":33,"v":0.004},{"k":"R","r":34,"v":0.003},{"k":"R","r":35,"v":0.003},{"k":"R","r":36,"v":0.003},{"k":"R","r":37,"v":0.003},{"k":"R","r":38,"v":0.003},{"k":"R","r":39,"v":0.003},{"k":"R","r":40,"v":0.003},{"k":"R","r":41,"v":0.003},{"k":"R","r":42,"v":0.003},{"k":"R","r":43,"v":0.003},{"k":"R","r":44,"v":0.003},{"k":"R","r":45,"v":0.003},{"k":"R","r":46,"v":0.003},{"k":"R","r":47,"v":0.003},{"k":"R","r":48,"v":0.003},{"k":"R","r":49,"v":0.003},
{"k":"V","r":0,"v":0.025},{"k":"V","r":1,"v":0.026},{"k":"V","r":2,"v":0.028},{"k":"V","r":3,"v":0.03},{"k":"V","r":4,"v":0.035},{"k":"V","r":5,"v":0.038},{"k":"V","r":6,"v":0.04},{"k":"V","r":7,"v":0.042},{"k":"V","r":8,"v":0.045},{"k":"V","r":9,"v":0.05},{"k":"V","r":10,"v":0.048},{"k":"V","r":11,"v":0.058},{"k":"V","r":12,"v":0.06},{"k":"V","r":13,"v":0.066},{"k":"V","r":14,"v":0.062},{"k":"V","r":15,"v":0.065},{"k":"V","r":16,"v":0.064},{"k":"V","r":17,"v":0.068},{"k":"V","r":18,"v":0.07},{"k":"V","r":19,"v":0.07},{"k":"V","r":20,"v":0.072},{"k":"V","r":21,"v":0.07},{"k":"V","r":22,"v":0.07},{"k":"V","r":23,"v":0.072},{"k":"V","r":24,"v":0.06},{"k":"V","r":25,"v":0.075},{"k":"V","r":26,"v":0.055},{"k":"V","r":27,"v":0.048},{"k":"V","r":28,"v":0.042},{"k":"V","r":29,"v":0.037},{"k":"V","r":30,"v":0.034},{"k":"V","r":31,"v":0.032},{"k":"V","r":32,"v":0.031},{"k":"V","r":33,"v":0.03},{"k":"V","r":34,"v":0.029},{"k":"V","r":35,"v":0.029},{"k":"V","r":36,"v":0.028},{"k":"V","r":37,"v":0.028},{"k":"V","r":38,"v":0.028},{"k":"V","r":39,"v":0.028},{"k":"V","r":40,"v":0.027},{"k":"V","r":41,"v":0.027},{"k":"V","r":42,"v":0.027},{"k":"V","r":43,"v":0.027},{"k":"V","r":44,"v":0.027},{"k":"V","r":45,"v":0.026},{"k":"V","r":46,"v":0.026},{"k":"V","r":47,"v":0.026},{"k":"V","r":48,"v":0.026},{"k":"V","r":49,"v":0.026},
{"k":"f1","r":0,"v":0.2},{"k":"f1","r":3,"v":0.4},{"k":"f1","r":5,"v":0.52},{"k":"f1","r":7,"v":0.55},{"k":"f1","r":9,"v":0.65},{"k":"f1","r":10,"v":0.7},{"k":"f1","r":12,"v":0.82},{"k":"f1","r":13,"v":0.85},{"k":"f1","r":16,"v":0.86},{"k":"f1","r":19,"v":0.89},{"k":"f1","r":22,"v":0.89},{"k":"f1","r":25,"v":0.92},{"k":"f1","r":28,"v":0.85},{"k":"f1","r":31,"v":0.8},{"k":"f1","r":34,"v":0.68},{"k":"f1","r":37,"v":0.66},{"k":"f1","r":40,"v":0.6},{"k":"f1","r":43,"v":0.4},{"k":"f1","r":46,"v":0.38},{"k":"f1","r":49,"v":0.37},
{"k":"f2","r":0,"v":0.18},{"k":"f2","r":3,"v":0.25},{"k":"f2","r":6,"v":0.45},{"k":"f2","r":9,"v":0.48},{"k":"f2","r":12,"v":0.5},{"k":"f2","r":15,"v":0.6},{"k":"f2","r":18,"v":0.7},{"k":"f2","r":21,"v":0.8},{"k":"f2","r":24,"v":0.88},{"k":"f2","r":25,"v":0.93},{"k":"f2","r":28,"v":0.78},{"k":"f2","r":31,"v":0.65},{"k":"f2","r":34,"v":0.5},{"k":"f2","r":37,"v":0.45},{"k":"f2","r":40,"v":0.45},{"k":"f2","r":43,"v":0.35},{"k":"f2","r":46,"v":0.33},{"k":"f2","r":49,"v":0.31},
{"k":"f3","r":0,"v":0.17},{"k":"f3","r":3,"v":0.18},{"k":"f3","r":6,"v":0.2},{"k":"f3","r":9,"v":0.21},{"k":"f3","r":10,"v":0.26},{"k":"f3","r":12,"v":0.3},{"k":"f3","r":15,"v":0.38},{"k":"f3","r":18,"v":0.48},{"k":"f3","r":21,"v":0.55},{"k":"f3","r":24,"v":0.65},{"k":"f3","r":25,"v":0.7},{"k":"f3","r":28,"v":0.62},{"k":"f3","r":31,"v":0.5},{"k":"f3","r":34,"v":0.38},{"k":"f3","r":37,"v":0.33},{"k":"f3","r":40,"v":0.28},{"k":"f3","r":43,"v":0.22},{"k":"f3","r":46,"v":0.2},{"k":"f3","r":49,"v":0.2},
{"k":"f4","r":0,"v":0.22},{"k":"f4","r":3,"v":0.24},{"k":"f4","r":6,"v":0.25},{"k":"f4","r":9,"v":0.33},{"k":"f4","r":12,"v":0.48},{"k":"f4","r":15,"v":0.55},{"k":"f4","r":18,"v":0.6},{"k":"f4","r":21,"v":0.63},{"k":"f4","r":24,"v":0.67},{"k":"f4","r":25,"v":0.72},{"k":"f4","r":28,"v":0.65},{"k":"f4","r":31,"v":0.58},{"k":"f4","r":34,"v":0.44},{"k":"f4","r":37,"v":0.38},{"k":"f4","r":40,"v":0.3},{"k":"f4","r":43,"v":0.25},{"k":"f4","r":46,"v":0.23},{"k":"f4","r":49,"v":0.22},
{"k":"f5","r":0,"v":0.19},{"k":"f5","r":3,"v":0.3},{"k":"f5","r":6,"v":0.36},{"k":"f5","r":9,"v":0.42},{"k":"f5","r":12,"v":0.55},{"k":"f5","r":15,"v":0.62},{"k":"f5","r":18,"v":0.72},{"k":"f5","r":21,"v":0.78},{"k":"f5","r":24,"v":0.82},{"k":"f5","r":27,"v":0.83},{"k":"f5","r":29,"v":0.72},{"k":"f5","r":32,"v":0.52},{"k":"f5","r":35,"v":0.4},{"k":"f5","r":38,"v":0.38},{"k":"f5","r":41,"v":0.32},{"k":"f5","r":44,"v":0.28},{"k":"f5","r":47,"v":0.27},{"k":"f5","r":49,"v":0.28},
{"k":"f6","r":0,"v":0.16},{"k":"f6","r":3,"v":0.2},{"k":"f6","r":6,"v":0.22},{"k":"f6","r":9,"v":0.35},{"k":"f6","r":12,"v":0.42},{"k":"f6","r":15,"v":0.5},{"k":"f6","r":18,"v":0.55},{"k":"f6","r":21,"v":0.62},{"k":"f6","r":24,"v":0.7},{"k":"f6","r":27,"v":0.7},{"k":"f6","r":30,"v":0.6},{"k":"f6","r":33,"v":0.47},{"k":"f6","r":36,"v":0.38},{"k":"f6","r":39,"v":0.34},{"k":"f6","r":42,"v":0.27},{"k":"f6","r":45,"v":0.25},{"k":"f6","r":49,"v":0.24},
{"k":"b1","r":0,"v":0.005},{"k":"b1","r":3,"v":0.01},{"k":"b1","r":6,"v":0.02},{"k":"b1","r":9,"v":0.03},{"k":"b1","r":12,"v":0.04},{"k":"b1","r":13,"v":0.08},{"k":"b1","r":15,"v":0.05},{"k":"b1","r":18,"v":0.12},{"k":"b1","r":19,"v":0.06},{"k":"b1","r":21,"v":0.06},{"k":"b1","r":24,"v":0.05},{"k":"b1","r":25,"v":0.07},{"k":"b1","r":27,"v":0.03},{"k":"b1","r":30,"v":0.01},{"k":"b1","r":35,"v":0.005},{"k":"b1","r":49,"v":0.004},
{"k":"b2","r":0,"v":0.003},{"k":"b2","r":4,"v":0.006},{"k":"b2","r":8,"v":0.01},{"k":"b2","r":12,"v":0.02},{"k":"b2","r":16,"v":0.025},{"k":"b2","r":20,"v":0.03},{"k":"b2","r":24,"v":0.025},{"k":"b2","r":28,"v":0.01},{"k":"b2","r":32,"v":0.003},{"k":"b2","r":49,"v":0.002},
{"k":"p1","r":0,"v":0.02},{"k":"p1","r":3,"v":0.03},{"k":"p1","r":6,"v":0.05},{"k":"p1","r":9,"v":0.06},{"k":"p1","r":12,"v":0.08},{"k":"p1","r":13,"v":0.1},{"k":"p1","r":15,"v":0.07},{"k":"p1","r":18,"v":0.15},{"k":"p1","r":19,"v":0.09},{"k":"p1","r":21,"v":0.08},{"k":"p1","r":24,"v":0.08},{"k":"p1","r":25,"v":0.1},{"k":"p1","r":27,"v":0.06},{"k":"p1","r":30,"v":0.04},{"k":"p1","r":35,"v":0.03},{"k":"p1","r":40,"v":0.03},{"k":"p1","r":49,"v":0.03},
{"k":"p2","r":0,"v":0.02},{"k":"p2","r":3,"v":0.04},{"k":"p2","r":6,"v":0.055},{"k":"p2","r":9,"v":0.07},{"k":"p2","r":12,"v":0.075},{"k":"p2","r":15,"v":0.08},{"k":"p2","r":18,"v":0.085},{"k":"p2","r":21,"v":0.085},{"k":"p2","r":24,"v":0.07},{"k":"p2","r":27,"v":0.05},{"k":"p2","r":30,"v":0.035},{"k":"p2","r":35,"v":0.03},{"k":"p2","r":49,"v":0.028}
],
"j2":[
{"k":"F","r":0,"v":0.19},{"k":"F","r":1,"v":0.208},{"k":"F","r":2,"v":0.25},{"k":"F","r":3,"v":0.319},{"k":"F","r":4,"v":0.343},{"k":"F","r":5,"v":0.412},{"k":"F","r":6,"v":0.418},{"k":"F","r":7,"v":0.497},{"k":"F","r":8,"v":0.497},{"k":"F","r":9,"v":0.558},{"k":"F","r":10,"v":0.566},{"k":"F","r":11,"v":0.61},{"k":"F","r":12,"v":0.632},{"k":"F","r":13,"v":0.659},{"k":"F","r":14,"v":0.683},{"k":"F","r":15,"v":0.699},{"k":"F","r":16,"v":0.709},{"k":"F","r":17,"v":0.729},{"k":"F","r":18,"v":0.739},{"k":"F","r":19,"v":0.749},{"k":"F","r":20,"v":0.762},{"k":"F","r":21,"v":0.768},{"k":"F","r":22,"v":0.778},{"k":"F","r":23,"v":0.788},{"k":"F","r":24,"v":0.788},{"k":"F","r":25,"v":0.798},{"k":"F","r":26,"v":0.782},{"k":"F","r":27,"v":0.749},{"k":"F","r":28,"v":0.733},{"k":"F","r":29,"v":0.703},{"k":"F","r":30,"v":0.665},{"k":"F","r":31,"v":0.616},{"k":"F","r":32,"v":0.57},{"k":"F","r":33,"v":0.525},{"k":"F","r":34,"v":0.505},{"k":"F","r":35,"v":0.485},{"k":"F","r":36,"v":0.471},{"k":"F","r":37,"v":0.465},{"k":"F","r":38,"v":0.465},{"k":"F","r":39,"v":0.457},{"k":"F","r":40,"v":0.402},{"k":"F","r":41,"v":0.396},{"k":"F","r":42,"v":0.349},{"k":"F","r":43,"v":0.323},{"k":"F","r":44,"v":0.309},{"k":"F","r":45,"v":0.313},{"k":"F","r":46,"v":0.313},{"k":"F","r":47,"v":0.307},{"k":"F","r":48,"v":0.303},{"k":"F","r":49,"v":0.303},
{"k":"R","r":0,"v":0.003},{"k":"R","r":1,"v":0.005},{"k":"R","r":2,"v":0.008},{"k":"R","r":3,"v":0.012},{"k":"R","r":4,"v":0.015},{"k":"R","r":5,"v":0.018},{"k":"R","r":6,"v":0.02},{"k":"R","r":7,"v":0.028},{"k":"R","r":8,"v":0.025},{"k":"R","r":9,"v":0.032},{"k":"R","r":10,"v":0.03},{"k":"R","r":11,"v":0.04},{"k":"R","r":12,"v":0.042},{"k":"R","r":13,"v":0.045},{"k":"R","r":14,"v":0.04},{"k":"R","r":15,"v":0.045},{"k":"R","r":16,"v":0.038},{"k":"R","r":17,"v":0.036},{"k":"R","r":18,"v":0.038},{"k":"R","r":19,"v":0.036},{"k":"R","r":20,"v":0.04},{"k":"R","r":21,"v":0.035},{"k":"R","r":22,"v":0.038},{"k":"R","r":23,"v":0.04},{"k":"R","r":24,"v":0.03},{"k":"R","r":25,"v":0.035},{"k":"R","r":26,"v":0.028},{"k":"R","r":27,"v":0.02},{"k":"R","r":28,"v":0.015},{"k":"R","r":29,"v":0.01},{"k":"R","r":30,"v":0.008},{"k":"R","r":31,"v":0.006},{"k":"R","r":32,"v":0.005},{"k":"R","r":33,"v":0.004},{"k":"R","r":34,"v":0.004},{"k":"R","r":35,"v":0.004},{"k":"R","r":36,"v":0.004},{"k":"R","r":37,"v":0.003},{"k":"R","r":38,"v":0.003},{"k":"R","r":39,"v":0.003},{"k":"R","r":40,"v":0.003},{"k":"R","r":41,"v":0.003},{"k":"R","r":42,"v":0.003},{"k":"R","r":43,"v":0.003},{"k":"R","r":44,"v":0.003},{"k":"R","r":45,"v":0.003},{"k":"R","r":46,"v":0.003},{"k":"R","r":47,"v":0.003},{"k":"R","r":48,"v":0.003},{"k":"R","r":49,"v":0.003},
{"k":"V","r":0,"v":0.025},{"k":"V","r":1,"v":0.028},{"k":"V","r":2,"v":0.032},{"k":"V","r":3,"v":0.038},{"k":"V","r":4,"v":0.042},{"k":"V","r":5,"v":0.045},{"k":"V","r":6,"v":0.048},{"k":"V","r":7,"v":0.055},{"k":"V","r":8,"v":0.052},{"k":"V","r":9,"v":0.06},{"k":"V","r":10,"v":0.058},{"k":"V","r":11,"v":0.066},{"k":"V","r":12,"v":0.068},{"k":"V","r":13,"v":0.07},{"k":"V","r":14,"v":0.066},{"k":"V","r":15,"v":0.07},{"k":"V","r":16,"v":0.064},{"k":"V","r":17,"v":0.063},{"k":"V","r":18,"v":0.064},{"k":"V","r":19,"v":0.062},{"k":"V","r":20,"v":0.065},{"k":"V","r":21,"v":0.06},{"k":"V","r":22,"v":0.063},{"k":"V","r":23,"v":0.065},{"k":"V","r":24,"v":0.056},{"k":"V","r":25,"v":0.06},{"k":"V","r":26,"v":0.055},{"k":"V","r":27,"v":0.05},{"k":"V","r":28,"v":0.044},{"k":"V","r":29,"v":0.04},{"k":"V","r":30,"v":0.037},{"k":"V","r":31,"v":0.035},{"k":"V","r":32,"v":0.033},{"k":"V","r":33,"v":0.032},{"k":"V","r":34,"v":0.031},{"k":"V","r":35,"v":0.03},{"k":"V","r":36,"v":0.029},{"k":"V","r":37,"v":0.029},{"k":"V","r":38,"v":0.028},{"k":"V","r":39,"v":0.028},{"k":"V","r":40,"v":0.028},{"k":"V","r":41,"v":0.028},{"k":"V","r":42,"v":0.028},{"k":"V","r":43,"v":0.027},{"k":"V","r":44,"v":0.027},{"k":"V","r":45,"v":0.027},{"k":"V","r":46,"v":0.027},{"k":"V","r":47,"v":0.027},{"k":"V","r":48,"v":0.027},{"k":"V","r":49,"v":0.027},
{"k":"f1","r":0,"v":0.2},{"k":"f1","r":2,"v":0.38},{"k":"f1","r":4,"v":0.58},{"k":"f1","r":6,"v":0.65},{"k":"f1","r":8,"v":0.75},{"k":"f1","r":10,"v":0.85},{"k":"f1","r":11,"v":0.9},{"k":"f1","r":13,"v":0.93},{"k":"f1","r":16,"v":0.94},{"k":"f1","r":19,"v":0.94},{"k":"f1","r":21,"v":0.92},{"k":"f1","r":23,"v":0.95},{"k":"f1","r":25,"v":0.94},{"k":"f1","r":27,"v":0.92},{"k":"f1","r":29,"v":0.85},{"k":"f1","r":31,"v":0.72},{"k":"f1","r":34,"v":0.7},{"k":"f1","r":37,"v":0.69},{"k":"f1","r":40,"v":0.67},{"k":"f1","r":42,"v":0.45},{"k":"f1","r":44,"v":0.4},{"k":"f1","r":46,"v":0.41},{"k":"f1","r":49,"v":0.42},
{"k":"f2","r":0,"v":0.22},{"k":"f2","r":3,"v":0.42},{"k":"f2","r":5,"v":0.5},{"k":"f2","r":7,"v":0.6},{"k":"f2","r":9,"v":0.72},{"k":"f2","r":11,"v":0.87},{"k":"f2","r":13,"v":0.88},{"k":"f2","r":16,"v":0.88},{"k":"f2","r":19,"v":0.89},{"k":"f2","r":22,"v":0.9},{"k":"f2","r":25,"v":0.9},{"k":"f2","r":28,"v":0.82},{"k":"f2","r":30,"v":0.7},{"k":"f2","r":33,"v":0.58},{"k":"f2","r":36,"v":0.5},{"k":"f2","r":39,"v":0.48},{"k":"f2","r":42,"v":0.38},{"k":"f2","r":45,"v":0.33},{"k":"f2","r":49,"v":0.32},
{"k":"f3","r":0,"v":0.17},{"k":"f3","r":2,"v":0.16},{"k":"f3","r":4,"v":0.2},{"k":"f3","r":6,"v":0.2},{"k":"f3","r":8,"v":0.3},{"k":"f3","r":10,"v":0.35},{"k":"f3","r":13,"v":0.5},{"k":"f3","r":16,"v":0.56},{"k":"f3","r":19,"v":0.58},{"k":"f3","r":22,"v":0.57},{"k":"f3","r":25,"v":0.63},{"k":"f3","r":26,"v":0.6},{"k":"f3","r":28,"v":0.58},{"k":"f3","r":31,"v":0.55},{"k":"f3","r":34,"v":0.48},{"k":"f3","r":37,"v":0.4},{"k":"f3","r":40,"v":0.36},{"k":"f3","r":43,"v":0.32},{"k":"f3","r":46,"v":0.28},{"k":"f3","r":49,"v":0.27},
{"k":"f4","r":0,"v":0.18},{"k":"f4","r":3,"v":0.28},{"k":"f4","r":6,"v":0.25},{"k":"f4","r":8,"v":0.26},{"k":"f4","r":10,"v":0.4},{"k":"f4","r":13,"v":0.55},{"k":"f4","r":16,"v":0.62},{"k":"f4","r":19,"v":0.65},{"k":"f4","r":22,"v":0.7},{"k":"f4","r":25,"v":0.72},{"k":"f4","r":28,"v":0.65},{"k":"f4","r":31,"v":0.52},{"k":"f4","r":34,"v":0.42},{"k":"f4","r":37,"v":0.38},{"k":"f4","r":40,"v":0.35},{"k":"f4","r":43,"v":0.3},{"k":"f4","r":46,"v":0.28},{"k":"f4","r":49,"v":0.27},
{"k":"f5","r":0,"v":0.21},{"k":"f5","r":3,"v":0.45},{"k":"f5","r":6,"v":0.5},{"k":"f5","r":9,"v":0.55},{"k":"f5","r":12,"v":0.6},{"k":"f5","r":15,"v":0.68},{"k":"f5","r":18,"v":0.78},{"k":"f5","r":21,"v":0.85},{"k":"f5","r":24,"v":0.88},{"k":"f5","r":27,"v":0.82},{"k":"f5","r":30,"v":0.6},{"k":"f5","r":33,"v":0.5},{"k":"f5","r":36,"v":0.45},{"k":"f5","r":39,"v":0.42},{"k":"f5","r":42,"v":0.35},{"k":"f5","r":45,"v":0.31},{"k":"f5","r":49,"v":0.3},
{"k":"f6","r":0,"v":0.19},{"k":"f6","r":3,"v":0.35},{"k":"f6","r":6,"v":0.42},{"k":"f6","r":9,"v":0.48},{"k":"f6","r":12,"v":0.55},{"k":"f6","r":15,"v":0.58},{"k":"f6","r":18,"v":0.64},{"k":"f6","r":21,"v":0.7},{"k":"f6","r":24,"v":0.72},{"k":"f6","r":27,"v":0.7},{"k":"f6","r":30,"v":0.62},{"k":"f6","r":33,"v":0.48},{"k":"f6","r":36,"v":0.4},{"k":"f6","r":39,"v":0.38},{"k":"f6","r":42,"v":0.32},{"k":"f6","r":45,"v":0.3},{"k":"f6","r":49,"v":0.29},
{"k":"b1","r":0,"v":0.005},{"k":"b1","r":3,"v":0.01},{"k":"b1","r":6,"v":0.02},{"k":"b1","r":9,"v":0.03},{"k":"b1","r":12,"v":0.04},{"k":"b1","r":14,"v":0.045},{"k":"b1","r":15,"v":0.12},{"k":"b1","r":16,"v":0.05},{"k":"b1","r":18,"v":0.045},{"k":"b1","r":21,"v":0.04},{"k":"b1","r":24,"v":0.04},{"k":"b1","r":27,"v":0.02},{"k":"b1","r":30,"v":0.01},{"k":"b1","r":35,"v":0.005},{"k":"b1","r":49,"v":0.004},
{"k":"b2","r":0,"v":0.002},{"k":"b2","r":4,"v":0.008},{"k":"b2","r":8,"v":0.015},{"k":"b2","r":12,"v":0.02},{"k":"b2","r":16,"v":0.025},{"k":"b2","r":20,"v":0.025},{"k":"b2","r":24,"v":0.02},{"k":"b2","r":28,"v":0.008},{"k":"b2","r":32,"v":0.003},{"k":"b2","r":49,"v":0.002},
{"k":"p1","r":0,"v":0.02},{"k":"p1","r":3,"v":0.04},{"k":"p1","r":6,"v":0.06},{"k":"p1","r":9,"v":0.07},{"k":"p1","r":12,"v":0.085},{"k":"p1","r":14,"v":0.08},{"k":"p1","r":15,"v":0.15},{"k":"p1","r":16,"v":0.08},{"k":"p1","r":18,"v":0.075},{"k":"p1","r":21,"v":0.07},{"k":"p1","r":23,"v":0.09},{"k":"p1","r":24,"v":0.07},{"k":"p1","r":27,"v":0.055},{"k":"p1","r":30,"v":0.04},{"k":"p1","r":35,"v":0.03},{"k":"p1","r":49,"v":0.028},
{"k":"p2","r":0,"v":0.02},{"k":"p2","r":4,"v":0.045},{"k":"p2","r":8,"v":0.06},{"k":"p2","r":12,"v":0.075},{"k":"p2","r":16,"v":0.07},{"k":"p2","r":20,"v":0.07},{"k":"p2","r":24,"v":0.065},{"k":"p2","r":28,"v":0.045},{"k":"p2","r":32,"v":0.033},{"k":"p2","r":40,"v":0.028},{"k":"p2","r":49,"v":0.027}
]
},
"spacing":-2,
"resolve":{"scale":{"color":"independent","shape":"independent","strokeDash":"independent"},"legend":{"color":"independent","shape":"independent","strokeDash":"independent"}},
"vconcat":[
{"hconcat":[
  {"width":52,"height":32,"data":{"values":[]},"mark":"point"},
  {"width":1044,"height":32,
   "data":{"values":[{"c":"Accuracy"},{"c":"MIA probability"},{"c":"JS divergence"}]},
   "layer":[
    {"mark":{"type":"text","font":"Liberation Serif","fontSize":24,"fontWeight":"bold","color":"#000","baseline":"middle"},
     "encoding":{"x":{"field":"c","type":"nominal","sort":null,"scale":{"domain":["Accuracy","MIA probability","JS divergence"],"paddingInner":0,"paddingOuter":0},"axis":null},"text":{"field":"c"}}},
    {"transform":[{"filter":"datum.c!='Accuracy'"}],"mark":{"type":"rule","color":"#000","strokeWidth":1},
     "encoding":{"x":{"field":"c","type":"nominal","sort":null,"bandPosition":0,"scale":{"domain":["Accuracy","MIA probability","JS divergence"],"paddingInner":0,"paddingOuter":0},"axis":null}}}
   ]}
 ],"spacing":0},
{"hconcat":[
  {"width":52,"height":492,
   "data":{"values":[{"l":"λ = 64"},{"l":"λ = 2"}]},
   "layer":[
    {"mark":{"type":"text","font":"Liberation Serif","fontSize":25,"angle":270,"dx":-60,"color":"#000","baseline":"middle"},
     "encoding":{"y":{"field":"l","type":"nominal","sort":null,"scale":{"domain":["λ = 64","λ = 2"],"paddingInner":0,"paddingOuter":0},"axis":null},"text":{"field":"l"}}},
    {"transform":[{"filter":"datum.l=='λ = 2'"}],"mark":{"type":"rule","color":"#000","strokeWidth":1},
     "encoding":{"y":{"field":"l","type":"nominal","sort":null,"bandPosition":0,"scale":{"domain":["λ = 64","λ = 2"],"paddingInner":0,"paddingOuter":0},"axis":null}}}
   ]},
  {"hconcat":[
   {"vconcat":[
     {"width":275,"height":19,"data":{"values":[]},"mark":"point","view":{"stroke":"transparent"}},
     {"width":275,"height":186,"data":{"name":"a64"},
      "encoding":{"color":{"field":"k","type":"nominal","scale":{"domain":["R","F","V","tR","tF","tV"],"range":["#1d4e6e","#ffa500","#e35d8d","#f26d7d","#f7a9b9","#f27886"]},
        "legend":{"title":null,"orient":"bottom-right","offset":5,"labelFont":"DejaVu Sans","labelFontSize":7.6,"labelColor":"#111","symbolSize":72,"symbolStrokeWidth":1.5,"symbolOffset":4.5,"labelOffset":9,"rowPadding":1.7,"padding":4,"fillColor":"rgba(255,255,255,0.85)","strokeColor":"#cccccc","cornerRadius":2,
           "labelExpr":"datum.value=='R'?'Unlearned - Retain Acc':datum.value=='F'?'Unlearned - Forget Acc':datum.value=='V'?'Unlearned - Val Acc':datum.value=='tR'?'Retrained - Retain Acc (1.00)':datum.value=='tF'?'Retrained - Forget Acc (0.79)':'Retrained - Val Acc (0.97)'"}}},
      "layer":[
       {"encoding":{
         "x":{"field":"r","type":"quantitative","scale":{"domain":[-2.45,51.45],"nice":false,"zero":false},"axis":{"values":[0,10,20,30,40,50],"tickCount":10,"title":"Round","titleFontSize":13,"titlePadding":1}},
         "y":{"field":"v","type":"quantitative","scale":{"domain":[0,1.1],"nice":false,"zero":false},"axis":{"values":[0,0.2,0.4,0.6,0.8,1],"tickCount":10,"labelOverlap":false,"format":".1f","title":"Accuracy","titleFontSize":13,"titlePadding":1}}},
        "layer":[
         {"transform":[{"filter":"indexof(datum.k,'f')==0"}],"mark":{"type":"line","strokeWidth":0.9,"opacity":0.35},"encoding":{"color":{"value":"#ffa500"},"detail":{"field":"k"}}},
         {"transform":[{"filter":"indexof(datum.k,'b')==0"}],"mark":{"type":"line","strokeWidth":0.8,"opacity":0.3},"encoding":{"color":{"value":"#1d4e6e"},"detail":{"field":"k"}}},
         {"transform":[{"filter":"indexof(datum.k,'p')==0"}],"mark":{"type":"line","strokeWidth":0.8,"opacity":0.35},"encoding":{"color":{"value":"#e35d8d"},"detail":{"field":"k"}}},
         {"transform":[{"filter":"length(datum.k)==1"}],"mark":{"type":"line","strokeWidth":1.5}},
         {"transform":[{"filter":"datum.k=='R'"}],"mark":{"type":"point","shape":"circle","filled":true,"size":7,"opacity":1}},
         {"transform":[{"filter":"datum.k=='F'"}],"mark":{"type":"point","shape":"square","filled":true,"size":11,"opacity":1}},
         {"transform":[{"filter":"datum.k=='V'"}],"mark":{"type":"point","shape":"triangle-up","filled":true,"size":9,"opacity":1}}
        ]},
       {"data":{"name":"accret"},"transform":[{"filter":"datum.k=='tR'"}],"mark":{"type":"rule","strokeWidth":1,"strokeDash":[4,2]},"encoding":{"y":{"field":"v","type":"quantitative"},"color":{"value":"#f26d7d"}}},
       {"data":{"name":"accret"},"transform":[{"filter":"datum.k=='tF'"}],"mark":{"type":"rule","strokeWidth":1,"strokeDash":[1,1.5]},"encoding":{"y":{"field":"v","type":"quantitative"},"color":{"value":"#f7a9b9"}}},
       {"data":{"name":"accret"},"transform":[{"filter":"datum.k=='tV'"}],"mark":{"type":"rule","strokeWidth":1,"strokeDash":[5,1.5,1,1.5]},"encoding":{"y":{"field":"v","type":"quantitative"},"color":{"value":"#f27886"}}},
       {"data":{"values":[]},"mark":{"type":"point","filled":false,"opacity":1,"strokeWidth":1.5},
        "encoding":{
         "shape":{"field":"k","type":"nominal","scale":{"domain":["R","F","V","tR","tF","tV"],"range":["M-2,0H2M0.45,0A0.45,0.45,0,1,1,-0.45,0A0.45,0.45,0,1,1,0.45,0","M-2,0H2M-0.45,-0.45H0.45V0.45H-0.45Z","M-2,0H2M0,-0.55L0.5,0.35H-0.5Z","M-2,0H2","M-2,0H2","M-2,0H2"]}},
         "strokeDash":{"field":"k","type":"nominal","scale":{"domain":["R","F","V","tR","tF","tV"],"range":[[1,0],[1,0],[1,0],[4,2],[1,1.5],[5,1.5,1,1.5]]}}}}
      ]},
     {"width":275,"height":62,"data":{"values":[]},"mark":"point","view":{"stroke":"transparent"}},
     {"width":275,"height":185,"data":{"name":"a2"},
      "encoding":{"color":{"field":"k","type":"nominal","scale":{"domain":["R","F","V","tR","tF","tV"],"range":["#1d4e6e","#ffa500","#e35d8d","#f26d7d","#f7a9b9","#f27886"]},
        "legend":{"title":null,"orient":"none","legendX":5,"legendY":58,"labelFont":"DejaVu Sans","labelFontSize":7.6,"labelColor":"#111","symbolSize":72,"symbolStrokeWidth":1.5,"symbolOffset":4.5,"labelOffset":9,"rowPadding":1.7,"padding":4,"fillColor":"rgba(255,255,255,0.85)","strokeColor":"#cccccc","cornerRadius":2,
           "labelExpr":"datum.value=='R'?'Unlearned - Retain Acc':datum.value=='F'?'Unlearned - Forget Acc':datum.value=='V'?'Unlearned - Val Acc':datum.value=='tR'?'Retrained - Retain Acc (1.00)':datum.value=='tF'?'Retrained - Forget Acc (0.79)':'Retrained - Val Acc (0.97)'"}}},
      "layer":[
       {"encoding":{
         "x":{"field":"r","type":"quantitative","scale":{"domain":[-2.45,51.45],"nice":false,"zero":false},"axis":{"values":[0,10,20,30,40,50],"tickCount":10,"title":"Round","titleFontSize":13,"titlePadding":1}},
         "y":{"field":"v","type":"quantitative","scale":{"domain":[0,1.1],"nice":false,"zero":false},"axis":{"values":[0,0.2,0.4,0.6,0.8,1],"tickCount":10,"labelOverlap":false,"format":".1f","title":"Accuracy","titleFontSize":13,"titlePadding":1}}},
        "layer":[
         {"transform":[{"filter":"indexof(datum.k,'f')==0"}],"mark":{"type":"line","strokeWidth":0.9,"opacity":0.35},"encoding":{"color":{"value":"#ffa500"},"detail":{"field":"k"}}},
         {"transform":[{"filter":"indexof(datum.k,'b')==0"}],"mark":{"type":"line","strokeWidth":0.8,"opacity":0.3},"encoding":{"color":{"value":"#1d4e6e"},"detail":{"field":"k"}}},
         {"transform":[{"filter":"indexof(datum.k,'p')==0"}],"mark":{"type":"line","strokeWidth":0.8,"opacity":0.35},"encoding":{"color":{"value":"#e35d8d"},"detail":{"field":"k"}}},
         {"transform":[{"filter":"length(datum.k)==1"}],"mark":{"type":"line","strokeWidth":1.5}},
         {"transform":[{"filter":"datum.k=='R'"}],"mark":{"type":"point","shape":"circle","filled":true,"size":7,"opacity":1}},
         {"transform":[{"filter":"datum.k=='F'"}],"mark":{"type":"point","shape":"square","filled":true,"size":11,"opacity":1}},
         {"transform":[{"filter":"datum.k=='V'"}],"mark":{"type":"point","shape":"triangle-up","filled":true,"size":9,"opacity":1}}
        ]},
       {"data":{"name":"accret"},"transform":[{"filter":"datum.k=='tR'"}],"mark":{"type":"rule","strokeWidth":1,"strokeDash":[4,2]},"encoding":{"y":{"field":"v","type":"quantitative"},"color":{"value":"#f26d7d"}}},
       {"data":{"name":"accret"},"transform":[{"filter":"datum.k=='tF'"}],"mark":{"type":"rule","strokeWidth":1,"strokeDash":[1,1.5]},"encoding":{"y":{"field":"v","type":"quantitative"},"color":{"value":"#f7a9b9"}}},
       {"data":{"name":"accret"},"transform":[{"filter":"datum.k=='tV'"}],"mark":{"type":"rule","strokeWidth":1,"strokeDash":[5,1.5,1,1.5]},"encoding":{"y":{"field":"v","type":"quantitative"},"color":{"value":"#f27886"}}},
       {"data":{"values":[]},"mark":{"type":"point","filled":false,"opacity":1,"strokeWidth":1.5},
        "encoding":{
         "shape":{"field":"k","type":"nominal","scale":{"domain":["R","F","V","tR","tF","tV"],"range":["M-2,0H2M0.45,0A0.45,0.45,0,1,1,-0.45,0A0.45,0.45,0,1,1,0.45,0","M-2,0H2M-0.45,-0.45H0.45V0.45H-0.45Z","M-2,0H2M0,-0.55L0.5,0.35H-0.5Z","M-2,0H2","M-2,0H2","M-2,0H2"]}},
         "strokeDash":{"field":"k","type":"nominal","scale":{"domain":["R","F","V","tR","tF","tV"],"range":[[1,0],[1,0],[1,0],[4,2],[1,1.5],[5,1.5,1,1.5]]}}}}
      ]}
    ],"spacing":0,"bounds":"flush","resolve":{"scale":{"color":"independent","shape":"independent","strokeDash":"independent"},"legend":{"color":"independent","shape":"independent","strokeDash":"independent"}}},
   {"vconcat":[
     {"width":279,"height":5,"data":{"values":[]},"mark":"point","view":{"stroke":"transparent"}},
     {"width":279,"height":204,"data":{"name":"m64"},
      "encoding":{"color":{"field":"k","type":"nominal","scale":{"domain":["tM","U"],"range":["#ff6a6a","#ffa500"]},
        "legend":{"title":null,"orient":"top-right","offset":4,"labelFont":"DejaVu Sans","labelFontSize":6.8,"labelColor":"#111","symbolSize":50,"symbolStrokeWidth":1.5,"symbolOffset":3.5,"labelOffset":8,"rowPadding":0.5,"padding":4,"fillColor":"rgba(255,255,255,0.85)","strokeColor":"#cccccc","cornerRadius":2,
           "labelExpr":"datum.value=='tM'?'Retrained Model':'Unlearned Model (TA)'"}}},
      "layer":[
       {"encoding":{
         "x":{"field":"r","type":"quantitative","scale":{"domain":[-1.45,52.45],"nice":false,"zero":false},"axis":{"values":[0,10,20,30,40,50],"tickCount":10,"title":"Round","titleFontSize":10,"titlePadding":3}},
         "y":{"field":"v","type":"quantitative","scale":{"domain":[0,1.1],"nice":false,"zero":false},"axis":{"values":[0,0.2,0.4,0.6,0.8,1],"tickCount":10,"labelOverlap":false,"format":".1f","title":"MIA Probability","titleFontSize":10,"titlePadding":2}}},
        "layer":[
         {"transform":[{"filter":"indexof(datum.k,'f')==0"}],"mark":{"type":"line","strokeWidth":0.9,"opacity":0.35},"encoding":{"color":{"value":"#ffa500"},"detail":{"field":"k"}}},
         {"transform":[{"filter":"datum.k=='U'"}],"mark":{"type":"line","strokeWidth":1.6}},
         {"transform":[{"filter":"datum.k=='U'"}],"mark":{"type":"point","shape":"circle","filled":true,"size":6,"opacity":1}}
        ]},
       {"data":{"name":"miaret"},"mark":{"type":"rule","strokeWidth":1,"strokeDash":[3,2]},"encoding":{"y":{"field":"v","type":"quantitative"},"color":{"value":"#ff6a6a"}}},
       {"data":{"values":[]},"mark":{"type":"point","filled":false,"opacity":1,"strokeWidth":1.5},
        "encoding":{
         "shape":{"field":"k","type":"nominal","scale":{"domain":["tM","U"],"range":["M-2,0H2","M-2,0H2M0.4,0A0.4,0.4,0,1,1,-0.4,0A0.4,0.4,0,1,1,0.4,0"]}},
         "strokeDash":{"field":"k","type":"nominal","scale":{"domain":["tM","U"],"range":[[3,2],[1,0]]}}}}
      ]},
     {"width":279,"height":43,"data":{"values":[]},"mark":"point","view":{"stroke":"transparent"}},
     {"width":279,"height":204,"data":{"name":"m2"},
      "encoding":{"color":{"field":"k","type":"nominal","scale":{"domain":["tM","U"],"range":["#ff6a6a","#ffa500"]},
        "legend":{"title":null,"orient":"top-right","offset":4,"labelFont":"DejaVu Sans","labelFontSize":6.8,"labelColor":"#111","symbolSize":50,"symbolStrokeWidth":1.5,"symbolOffset":3.5,"labelOffset":8,"rowPadding":0.5,"padding":4,"fillColor":"rgba(255,255,255,0.85)","strokeColor":"#cccccc","cornerRadius":2,
           "labelExpr":"datum.value=='tM'?'Retrained Model':'Unlearned Model (TA)'"}}},
      "layer":[
       {"encoding":{
         "x":{"field":"r","type":"quantitative","scale":{"domain":[-1.45,52.45],"nice":false,"zero":false},"axis":{"values":[0,10,20,30,40,50],"tickCount":10,"title":"Round","titleFontSize":10,"titlePadding":3}},
         "y":{"field":"v","type":"quantitative","scale":{"domain":[0,1.1],"nice":false,"zero":false},"axis":{"values":[0,0.2,0.4,0.6,0.8,1],"tickCount":10,"labelOverlap":false,"format":".1f","title":"MIA Probability","titleFontSize":10,"titlePadding":2}}},
        "layer":[
         {"transform":[{"filter":"indexof(datum.k,'f')==0"}],"mark":{"type":"line","strokeWidth":0.9,"opacity":0.35},"encoding":{"color":{"value":"#ffa500"},"detail":{"field":"k"}}},
         {"transform":[{"filter":"datum.k=='U'"}],"mark":{"type":"line","strokeWidth":1.6}},
         {"transform":[{"filter":"datum.k=='U'"}],"mark":{"type":"point","shape":"circle","filled":true,"size":6,"opacity":1}}
        ]},
       {"data":{"name":"miaret"},"mark":{"type":"rule","strokeWidth":1,"strokeDash":[3,2]},"encoding":{"y":{"field":"v","type":"quantitative"},"color":{"value":"#ff6a6a"}}},
       {"data":{"values":[]},"mark":{"type":"point","filled":false,"opacity":1,"strokeWidth":1.5},
        "encoding":{
         "shape":{"field":"k","type":"nominal","scale":{"domain":["tM","U"],"range":["M-2,0H2","M-2,0H2M0.4,0A0.4,0.4,0,1,1,-0.4,0A0.4,0.4,0,1,1,0.4,0"]}},
         "strokeDash":{"field":"k","type":"nominal","scale":{"domain":["tM","U"],"range":[[3,2],[1,0]]}}}}
      ]}
    ],"spacing":0,"bounds":"flush","resolve":{"scale":{"color":"independent","shape":"independent","strokeDash":"independent"},"legend":{"color":"independent","shape":"independent","strokeDash":"independent"}}},
   {"vconcat":[
     {"width":275,"height":19,"data":{"values":[]},"mark":"point","view":{"stroke":"transparent"}},
     {"width":275,"height":186,"data":{"name":"j64"},
      "encoding":{"color":{"field":"k","type":"nominal","scale":{"domain":["R","F","V"],"range":["#1d4e6e","#ffa500","#e35d8d"]},
        "legend":{"title":null,"orient":"top-right","offset":3,"labelFont":"DejaVu Sans","labelFontSize":7.8,"labelColor":"#111","symbolSize":72,"symbolStrokeWidth":1.5,"symbolOffset":4.5,"labelOffset":9,"rowPadding":2,"padding":4,"fillColor":"rgba(255,255,255,0.85)","strokeColor":"#cccccc","cornerRadius":2,
           "labelExpr":"datum.value=='R'?'Unlearned - Retain':datum.value=='F'?'Unlearned - Forget':'Unlearned - Val'"}}},
      "layer":[
       {"encoding":{
         "x":{"field":"r","type":"quantitative","scale":{"domain":[-2.45,51.45],"nice":false,"zero":false},"axis":{"values":[0,10,20,30,40,50],"tickCount":10,"title":"Round","titleFontSize":13,"titlePadding":1}},
         "y":{"field":"v","type":"quantitative","scale":{"domain":[0,1.1],"nice":false,"zero":false},"axis":{"values":[0,0.2,0.4,0.6,0.8,1],"tickCount":10,"labelOverlap":false,"format":".1f","title":"JS divergence","titleFontSize":13,"titlePadding":1}}},
        "layer":[
         {"transform":[{"filter":"indexof(datum.k,'f')==0"}],"mark":{"type":"line","strokeWidth":0.9,"opacity":0.35},"encoding":{"color":{"value":"#ffa500"},"detail":{"field":"k"}}},
         {"transform":[{"filter":"indexof(datum.k,'b')==0"}],"mark":{"type":"line","strokeWidth":0.8,"opacity":0.3},"encoding":{"color":{"value":"#1d4e6e"},"detail":{"field":"k"}}},
         {"transform":[{"filter":"indexof(datum.k,'p')==0"}],"mark":{"type":"line","strokeWidth":0.8,"opacity":0.35},"encoding":{"color":{"value":"#e35d8d"},"detail":{"field":"k"}}},
         {"transform":[{"filter":"length(datum.k)==1"}],"mark":{"type":"line","strokeWidth":1.5}},
         {"transform":[{"filter":"datum.k=='R'"}],"mark":{"type":"point","shape":"circle","filled":true,"size":7,"opacity":1}},
         {"transform":[{"filter":"datum.k=='F'"}],"mark":{"type":"point","shape":"square","filled":true,"size":11,"opacity":1}},
         {"transform":[{"filter":"datum.k=='V'"}],"mark":{"type":"point","shape":"triangle-up","filled":true,"size":9,"opacity":1}}
        ]},
       {"data":{"values":[]},"mark":{"type":"point","filled":false,"opacity":1,"strokeWidth":1.5},
        "encoding":{
         "shape":{"field":"k","type":"nominal","scale":{"domain":["R","F","V"],"range":["M-2,0H2M0.45,0A0.45,0.45,0,1,1,-0.45,0A0.45,0.45,0,1,1,0.45,0","M-2,0H2M-0.45,-0.45H0.45V0.45H-0.45Z","M-2,0H2M0,-0.55L0.5,0.35H-0.5Z"]}}}}
      ]},
     {"width":275,"height":62,"data":{"values":[]},"mark":"point","view":{"stroke":"transparent"}},
     {"width":275,"height":185,"data":{"name":"j2"},
      "encoding":{"color":{"field":"k","type":"nominal","scale":{"domain":["R","F","V"],"range":["#1d4e6e","#ffa500","#e35d8d"]},
        "legend":{"title":null,"orient":"top-right","offset":3,"labelFont":"DejaVu Sans","labelFontSize":7.8,"labelColor":"#111","symbolSize":72,"symbolStrokeWidth":1.5,"symbolOffset":4.5,"labelOffset":9,"rowPadding":2,"padding":4,"fillColor":"rgba(255,255,255,0.85)","strokeColor":"#cccccc","cornerRadius":2,
           "labelExpr":"datum.value=='R'?'Unlearned - Retain':datum.value=='F'?'Unlearned - Forget':'Unlearned - Val'"}}},
      "layer":[
       {"encoding":{
         "x":{"field":"r","type":"quantitative","scale":{"domain":[-2.45,51.45],"nice":false,"zero":false},"axis":{"values":[0,10,20,30,40,50],"tickCount":10,"title":"Round","titleFontSize":13,"titlePadding":1}},
         "y":{"field":"v","type":"quantitative","scale":{"domain":[0,1.1],"nice":false,"zero":false},"axis":{"values":[0,0.2,0.4,0.6,0.8,1],"tickCount":10,"labelOverlap":false,"format":".1f","title":"JS divergence","titleFontSize":13,"titlePadding":1}}},
        "layer":[
         {"transform":[{"filter":"indexof(datum.k,'f')==0"}],"mark":{"type":"line","strokeWidth":0.9,"opacity":0.35},"encoding":{"color":{"value":"#ffa500"},"detail":{"field":"k"}}},
         {"transform":[{"filter":"indexof(datum.k,'b')==0"}],"mark":{"type":"line","strokeWidth":0.8,"opacity":0.3},"encoding":{"color":{"value":"#1d4e6e"},"detail":{"field":"k"}}},
         {"transform":[{"filter":"indexof(datum.k,'p')==0"}],"mark":{"type":"line","strokeWidth":0.8,"opacity":0.35},"encoding":{"color":{"value":"#e35d8d"},"detail":{"field":"k"}}},
         {"transform":[{"filter":"length(datum.k)==1"}],"mark":{"type":"line","strokeWidth":1.5}},
         {"transform":[{"filter":"datum.k=='R'"}],"mark":{"type":"point","shape":"circle","filled":true,"size":7,"opacity":1}},
         {"transform":[{"filter":"datum.k=='F'"}],"mark":{"type":"point","shape":"square","filled":true,"size":11,"opacity":1}},
         {"transform":[{"filter":"datum.k=='V'"}],"mark":{"type":"point","shape":"triangle-up","filled":true,"size":9,"opacity":1}}
        ]},
       {"data":{"values":[]},"mark":{"type":"point","filled":false,"opacity":1,"strokeWidth":1.5},
        "encoding":{
         "shape":{"field":"k","type":"nominal","scale":{"domain":["R","F","V"],"range":["M-2,0H2M0.45,0A0.45,0.45,0,1,1,-0.45,0A0.45,0.45,0,1,1,0.45,0","M-2,0H2M-0.45,-0.45H0.45V0.45H-0.45Z","M-2,0H2M0,-0.55L0.5,0.35H-0.5Z"]}}}}
      ]}
    ],"spacing":0,"bounds":"flush","resolve":{"scale":{"color":"independent","shape":"independent","strokeDash":"independent"},"legend":{"color":"independent","shape":"independent","strokeDash":"independent"}}}
  ],"spacing":38.8,"resolve":{"scale":{"color":"independent","shape":"independent","strokeDash":"independent"},"legend":{"color":"independent","shape":"independent","strokeDash":"independent"}}}
 ],"spacing":18,"resolve":{"scale":{"color":"independent","shape":"independent","strokeDash":"independent"},"legend":{"color":"independent","shape":"independent","strokeDash":"independent"}}}
]
}
